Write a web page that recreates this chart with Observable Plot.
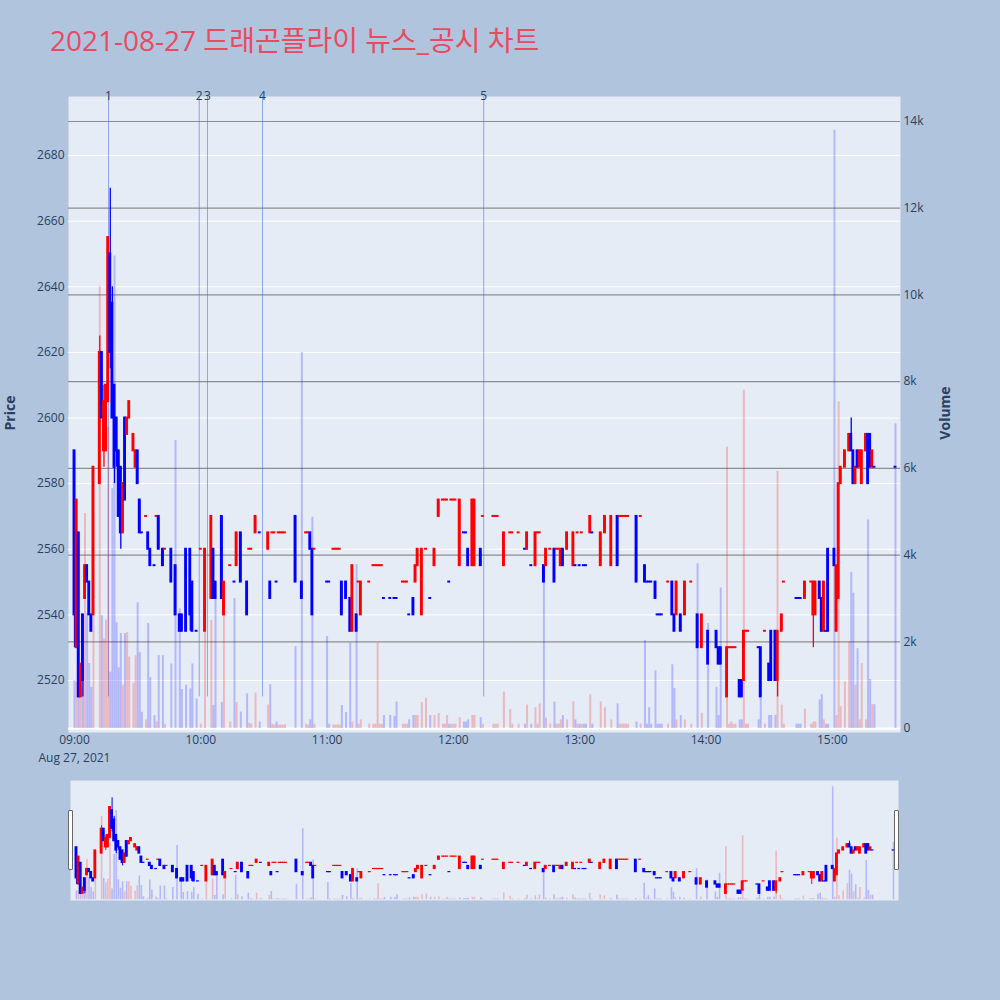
<!DOCTYPE html>
<html>
<head>
<meta charset="utf-8">
<script src="https://cdn.jsdelivr.net/npm/d3@7"></script>
<script src="https://cdn.jsdelivr.net/npm/@observablehq/plot@0.6"></script>
<style>
  body { margin: 0; background: #b0c4de; }
  #wrap { position: relative; width: 1000px; height: 1000px; background: #b0c4de; font-family: "Open Sans", sans-serif; color: #2a3f5f; overflow: hidden; }
  #title { position: absolute; left: 50px; top: 24px; font-size: 28px; line-height: 32px; color: #ea4a5f; font-family: "Open Sans", "Noto Sans CJK KR", sans-serif; white-space: nowrap; }
  .ylab { position: absolute; width: 80px; height: 20px; line-height: 20px; text-align: center; font-size: 14px; font-weight: bold; transform: rotate(-90deg); }
  .handle { position: absolute; top: 810px; width: 3px; height: 58px; background: #fff; border: 1px solid #666; border-radius: 1px; }
  #main, #slider { position: absolute; left: 0; }
  #main { top: 0; }
  #slider { top: 775px; }
</style>
</head>
<body>
<div id="wrap">
  <div id="main"></div>
  <div id="slider"></div>
  <div id="title">2021-08-27 드래곤플라이 뉴스_공시 차트</div>
  <div class="ylab" style="left:-30px; top:403px;">Price</div>
  <div class="ylab" style="left:905px; top:403px;">Volume</div>
  <div class="handle" style="left:68px;"></div>
  <div class="handle" style="left:894px;"></div>
</div>
<script>
// minutes after 09:00 on 2021-08-27
const minute = [0,1,2,3,4,5,6,7,8,9,
  12,13,14,15,16,17,18,19,20,21,
  22,23,24,25,26,28,29,30,31,32,
  34,35,36,38,39,40,42,43,46,48,
  50,51,53,55,56,58,60,62,65,66,
  67,70,71,74,76,77,79,82,83,84,
  86,88,92,93,94,95,96,97,98,99,
  100,105,108,110,111,112,113,114,120,121,
  123,124,125,126,127,129,131,132,134,135,
  136,140,142,143,144,145,146,147,150,152,
  153,156,157,158,159,161,162,163,165,167,
  169,171,173,175,176,177,178,179,180,181,
  183,185,186,187,189,190,193,194,199,200,
  201,204,207,208,211,214,215,217,219,220,
  221,223,224,226,228,229,230,231,232,234,
  237,238,239,240,241,242,243,245,246,250,
  252,255,258,259,260,261,262,263,267,269,
  271,272,273,274,276,277,278,279,282,284,
  285,286,288,290,293,296,298,301,305,306,
  307,310,311,312,313,314,316,317,318,319,
  320,325,326,328,330,331,333,334,336,337,
  343,344,345,347,350,351,352,354,355,356,
  357,358,361,362,363,364,366,368,369,370,
  371,372,373,374,376,377,378,379,380,390];

const open = [2590,2530,2565,2515,2540,2545,2555,2550,2540,2540,
  2580,2620,2590,2590,2605,2650,2635,2610,2600,2590,
  2585,2565,2600,2595,2600,2590,2585,2590,2575,2565,
  2570,2565,2560,2555,2570,2570,2560,2560,2560,2555,
  2540,2540,2560,2560,2550,2535,2560,2535,2545,2560,
  2550,2570,2540,2555,2550,2555,2565,2550,2560,2560,
  2565,2565,2560,2550,2565,2565,2550,2565,2565,2565,
  2565,2570,2550,2565,2565,2565,2560,2560,2550,2550,
  2560,2560,2560,2560,2550,2550,2545,2535,2540,2550,
  2540,2550,2555,2555,2555,2555,2555,2545,2545,2545,
  2545,2550,2550,2550,2540,2545,2550,2555,2540,2560,
  2545,2555,2570,2575,2575,2575,2550,2575,2575,2575,
  2555,2565,2565,2560,2555,2555,2560,2570,2570,2570,
  2570,2555,2565,2565,2565,2560,2560,2555,2555,2565,
  2565,2555,2555,2560,2560,2560,2560,2555,2560,2560,
  2555,2555,2565,2555,2565,2555,2555,2565,2565,2555,
  2565,2555,2570,2570,2570,2570,2570,2570,2570,2570,
  2555,2550,2550,2550,2550,2540,2540,2540,2550,2550,
  2540,2540,2540,2540,2550,2540,2530,2535,2535,2530,
  2530,2515,2530,2530,2530,2530,2520,2520,2520,2535,
  2535,2530,2530,2535,2525,2535,2535,2520,2535,2550,
  2545,2545,2545,2545,2550,2540,2540,2550,2545,2535,
  2535,2560,2560,2535,2545,2580,2585,2590,2595,2590,
  2580,2590,2585,2580,2590,2595,2595,2585,2585,2585];

const high = [2590,2575,2565,2525,2540,2555,2555,2550,2540,2585,
  2625,2620,2610,2610,2655,2670,2640,2610,2600,2590,
  2585,2580,2600,2600,2605,2595,2590,2590,2575,2565,
  2570,2565,2560,2555,2570,2570,2560,2560,2560,2555,
  2540,2540,2560,2560,2550,2535,2560,2560,2570,2560,
  2550,2570,2550,2555,2550,2565,2565,2550,2560,2560,
  2570,2565,2565,2550,2565,2565,2550,2565,2565,2565,
  2565,2570,2550,2565,2565,2565,2560,2560,2550,2550,
  2560,2560,2560,2560,2550,2550,2545,2555,2540,2550,
  2550,2550,2555,2555,2555,2555,2555,2545,2545,2545,
  2545,2550,2550,2550,2540,2545,2555,2560,2560,2560,
  2545,2560,2575,2575,2575,2575,2550,2575,2575,2575,
  2575,2565,2565,2560,2575,2575,2560,2570,2570,2570,
  2570,2565,2565,2565,2565,2560,2565,2555,2565,2565,
  2565,2555,2560,2560,2560,2560,2560,2560,2560,2565,
  2565,2555,2565,2555,2565,2555,2555,2570,2565,2565,
  2570,2570,2570,2570,2570,2570,2570,2570,2570,2570,
  2555,2550,2550,2550,2550,2540,2540,2540,2550,2550,
  2540,2550,2540,2550,2550,2540,2540,2535,2535,2530,
  2530,2530,2530,2530,2530,2530,2520,2520,2535,2535,
  2535,2530,2530,2535,2525,2535,2535,2535,2540,2550,
  2545,2545,2545,2550,2550,2550,2550,2550,2545,2550,
  2535,2560,2560,2555,2580,2585,2590,2595,2600,2590,
  2585,2590,2590,2590,2595,2595,2595,2590,2585,2585];

const low = [2530,2530,2515,2515,2515,2545,2550,2540,2535,2540,
  2580,2600,2585,2590,2605,2615,2600,2580,2585,2570,
  2560,2565,2575,2595,2600,2590,2585,2580,2565,2565,
  2570,2560,2555,2555,2570,2560,2555,2560,2550,2540,
  2535,2535,2535,2535,2535,2535,2560,2535,2545,2545,
  2545,2545,2540,2555,2550,2555,2550,2540,2560,2560,
  2565,2565,2560,2545,2565,2565,2550,2565,2565,2565,
  2565,2550,2545,2565,2565,2560,2540,2560,2550,2550,
  2560,2560,2560,2560,2540,2545,2535,2535,2535,2550,
  2540,2550,2555,2555,2555,2555,2555,2545,2545,2545,
  2545,2550,2550,2550,2540,2540,2550,2555,2540,2560,
  2545,2555,2570,2575,2575,2575,2550,2575,2575,2575,
  2555,2565,2565,2555,2555,2555,2555,2570,2570,2570,
  2570,2555,2565,2565,2565,2560,2560,2555,2555,2565,
  2565,2550,2555,2560,2550,2560,2560,2555,2555,2560,
  2555,2555,2565,2555,2565,2555,2555,2565,2565,2555,
  2565,2555,2555,2570,2570,2570,2570,2570,2550,2570,
  2550,2550,2550,2550,2545,2540,2540,2540,2550,2540,
  2535,2540,2535,2540,2550,2530,2530,2525,2530,2525,
  2525,2515,2530,2530,2530,2530,2515,2515,2520,2535,
  2535,2530,2515,2535,2520,2520,2520,2515,2535,2550,
  2545,2545,2545,2545,2550,2530,2540,2545,2535,2535,
  2535,2535,2555,2535,2545,2580,2585,2590,2590,2580,
  2580,2585,2585,2580,2590,2580,2585,2585,2585,2585];

const close = [2540,2575,2515,2525,2520,2555,2550,2540,2535,2585,
  2620,2600,2605,2610,2655,2620,2600,2585,2590,2570,
  2565,2580,2575,2600,2605,2595,2590,2580,2565,2565,
  2570,2560,2555,2555,2570,2560,2555,2560,2550,2540,
  2535,2535,2535,2540,2535,2535,2560,2560,2570,2545,
  2545,2545,2550,2555,2550,2565,2550,2540,2560,2560,
  2570,2565,2565,2545,2565,2565,2550,2565,2565,2565,
  2565,2550,2545,2565,2565,2560,2540,2560,2550,2550,
  2560,2560,2560,2560,2540,2545,2535,2555,2535,2550,
  2550,2550,2555,2555,2555,2555,2555,2545,2545,2545,
  2545,2550,2550,2550,2540,2540,2555,2560,2560,2560,
  2545,2560,2575,2575,2575,2575,2550,2575,2575,2575,
  2575,2565,2565,2555,2575,2575,2555,2570,2570,2570,
  2570,2565,2565,2565,2565,2560,2565,2555,2565,2565,
  2565,2550,2560,2560,2550,2560,2560,2560,2555,2565,
  2565,2555,2565,2555,2565,2555,2555,2570,2565,2565,
  2570,2570,2555,2570,2570,2570,2570,2570,2550,2570,
  2550,2550,2550,2550,2545,2540,2540,2540,2550,2540,
  2535,2550,2535,2550,2550,2530,2540,2525,2530,2525,
  2525,2530,2530,2530,2530,2530,2515,2515,2535,2535,
  2535,2530,2515,2535,2520,2520,2520,2535,2540,2550,
  2545,2545,2545,2550,2550,2550,2550,2545,2535,2550,
  2535,2535,2555,2555,2580,2585,2590,2595,2590,2580,
  2585,2585,2590,2590,2595,2580,2585,2590,2585,2585];

const volume = [1100,1070,1400,900,1500,4960,2650,1500,950,4950,
  10200,2600,2070,2500,6940,1300,5530,10900,2440,1400,
  2190,1000,2190,2210,1650,1040,1680,2900,1750,375,
  200,2420,1180,300,150,1680,1680,100,1490,6640,
  2760,900,1000,910,1490,680,100,3000,2490,530,
  3100,600,3000,150,3000,600,380,800,120,100,
  820,150,540,1010,100,80,150,80,80,80,
  80,1890,8670,100,80,200,4870,100,2120,100,
  80,80,80,80,530,370,1970,150,3780,100,
  200,100,100,100,1970,100,100,300,300,280,
  610,100,100,100,200,300,300,300,600,700,
  300,300,350,100,100,300,100,100,100,100,
  250,150,150,200,300,300,250,100,100,100,
  100,840,440,100,100,100,540,100,480,100,
  570,3700,240,100,610,100,100,200,300,200,
  620,200,100,100,100,100,100,780,100,610,
  480,200,570,100,100,100,100,100,150,100,
  2030,100,480,100,1330,100,100,100,100,1470,
  920,200,300,200,100,3800,350,2420,950,300,
  3240,6490,100,150,100,100,200,200,7800,100,
  100,200,700,100,300,300,300,5930,540,100,
  100,100,100,450,100,150,150,660,780,200,
  100,100,13800,300,7530,500,1070,1990,3600,3120,
  1000,1840,200,1500,200,4810,1130,550,550,7030];

const newsTime = ["09:16:10", "09:59:15", "10:03:10", "10:29:20", "12:14:25"];
const newsLabel = ["1", "2", "3", "4", "5"];

const priceTicks = [2520, 2540, 2560, 2580, 2600, 2620, 2640, 2660, 2680];
const volTicks = [0, 2000, 4000, 6000, 8000, 10000, 12000, 14000];
const timeTicks = ["09:00", "10:00", "11:00", "12:00", "13:00", "14:00", "15:00"];
const dateLabel = "Aug 27, 2021";

const upColor = "#ff0000";
const downColor = "#0000ff";

const at = s => {
  const [h, m, sec = 0] = s.split(":").map(Number);
  return new Date(Date.UTC(2021, 7, 27, h, m, sec));
};
const open0 = at("09:00").getTime();
const byMinute = m => new Date(open0 + m * 60000);

// candle direction the way plotly decides it (flat candles follow the previous close)
let prevClose = null, prevUp = true;
const rows = minute.map((m, i) => {
  const o = open[i], c = close[i];
  let up;
  if (c > o) up = true;
  else if (c < o) up = false;
  else if (prevClose === null || c === prevClose) up = prevUp;
  else up = c > prevClose;
  prevUp = up; prevClose = c;
  return {time: byMinute(m), t1: byMinute(m - 0.35), t2: byMinute(m + 0.35),
          open: o, high: high[i], low: low[i], close: c, volume: volume[i],
          color: up ? upColor : downColor};
});
const news = newsTime.map((t, i) => ({time: at(t), label: newsLabel[i]}));

const xDomain = [at("08:57:09"), at("15:32:24")];
const priceDomain = [2504.15, 2698];
const volDomain = [-92, 14576];
const volY = d3.scaleLinear().domain(volDomain).range(priceDomain);
const volFmt = d3.format("~s");
const lowest = d3.min(low);

function candleMarks(bodyInset, wickWidth, volWidth) {
  return [
    Plot.ruleX(rows, {x: "time", y1: () => volY(0), y2: d => volY(d.volume),
      stroke: "color", strokeOpacity: 0.22, strokeWidth: volWidth}),
    Plot.ruleX(rows, {x: "time", y1: "low", y2: "high", stroke: "color", strokeWidth: wickWidth}),
    Plot.rect(rows, {x1: "t1", x2: "t2", y1: "open", y2: "close", fill: "color",
      insetLeft: -0.7, insetRight: -0.7, insetTop: -bodyInset, insetBottom: -bodyInset})
  ];
}

const main = Plot.plot({
  width: 1000,
  height: 775,
  marginTop: 96,
  marginBottom: 43,
  marginLeft: 68,
  marginRight: 100,
  style: {background: "transparent", fontFamily: "Open Sans", fontSize: "12px", color: "#2a3f5f"},
  x: {type: "utc", domain: xDomain},
  y: {domain: priceDomain},
  color: {type: "identity"},
  marks: [
    Plot.frame({fill: "#e5ecf6", stroke: null}),
    Plot.ruleY(priceTicks, {stroke: "white", strokeWidth: 1}),
    Plot.ruleY(volTicks.slice(1), {y: v => volY(v), stroke: "#8e8e8e", strokeWidth: 1.2}),
    Plot.ruleY([0], {y: v => volY(v), stroke: "white", strokeWidth: 2}),
    Plot.ruleX(news, {x: "time", y1: () => lowest, y2: () => priceDomain[1],
      stroke: "royalblue", strokeOpacity: 0.55, strokeWidth: 1}),
    ...candleMarks(1, 1.3, 2),
    Plot.text(news, {x: "time", y: () => priceDomain[1], text: "label",
      lineAnchor: "middle", fill: "#2a3f5f", fontSize: 12}),
    Plot.axisY(priceTicks, {anchor: "left", tickSize: 0, tickPadding: 4, label: null, fontSize: 12,
      tickFormat: d => String(d)}),
    Plot.axisY(volTicks.map(v => volY(v)), {anchor: "right", tickSize: 0, tickPadding: 3, label: null,
      fontSize: 12, tickFormat: d => volFmt(Math.round(volY.invert(d)))}),
    Plot.axisX(timeTicks.map(at), {tickSize: 0, tickPadding: 3, label: null, fontSize: 12,
      tickFormat: d3.utcFormat("%H:%M")}),
    Plot.text([at(timeTicks[0])], {x: d => d, frameAnchor: "bottom", dy: 26, lineAnchor: "middle",
      text: () => dateLabel, fill: "#2a3f5f", fontSize: 12})
  ]
});
document.getElementById("main").append(main);

const slider = Plot.plot({
  width: 1000,
  height: 225,
  marginTop: 5,
  marginBottom: 100,
  marginLeft: 70,
  marginRight: 102,
  style: {background: "transparent"},
  x: {type: "utc", domain: xDomain, axis: null},
  y: {domain: priceDomain, axis: null},
  color: {type: "identity"},
  marks: [
    Plot.frame({fill: "#e5ecf6", stroke: null}),
    ...candleMarks(0.6, 1, 1.6)
  ]
});
document.getElementById("slider").append(slider);
</script>
</body>
</html>
